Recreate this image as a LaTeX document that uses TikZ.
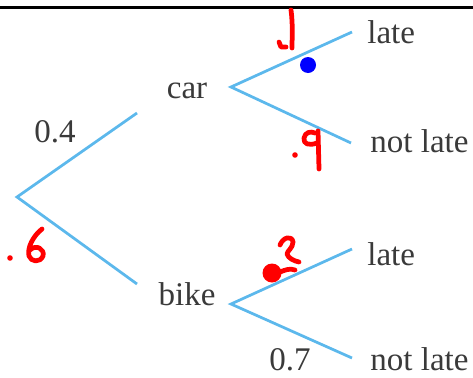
\documentclass[tikz,border=0pt]{standalone}
\usepackage{fontspec}
\setmainfont{Liberation Serif}
\usepackage{tikz}
\usetikzlibrary{calc}

\definecolor{treeblue}{RGB}{92,184,236}
\definecolor{txtgrey}{RGB}{58,58,58}

\begin{document}
\begin{tikzpicture}[x=0.2mm, y=-0.2mm,
		branch/.style={draw=treeblue, line width=0.55mm},
		lbl/.style={text=txtgrey, inner sep=0pt, font=\fontsize{18.8}{22}\selectfont},
		ink/.style={draw=red, line width=0.95mm, line cap=round, line join=round}]
		\useasboundingbox (0,0) rectangle (473,377);
		\draw[line width=0.6mm] (0,7) -- (473,7);
		% tree points
		\coordinate (root) at (17,197);
		\coordinate (caren) at (137,113);
		\coordinate (bikeen) at (137,284);
		\coordinate (carfork) at (231,87);
		\coordinate (bikefork) at (231,304);
		\coordinate (cl) at (352,32);
		\coordinate (cn) at (351,143);
		\coordinate (bl) at (352,249);
		\coordinate (bn) at (352,358);
		% labels
		\node[lbl, anchor=base] (car) at (187,98) {car};
		\node[lbl, anchor=base] (bike) at (187,305) {bike};
		\node[lbl, anchor=base west] (carlate) at (367,43) {late};
		\node[lbl, anchor=base west] (carnot) at (370,152) {not late};
		\node[lbl, anchor=base west] (bikelate) at (367,265) {late};
		\node[lbl, anchor=base west] (bikenot) at (370,370) {not late};
		\node[lbl, anchor=base] (pcar) at (55,142) {0.4};
		\node[lbl, anchor=base] (pbikenot) at (290,370) {0.7};
		% branches
		\draw[branch] (caren) -- (root) -- (bikeen);
		\draw[branch] (cl) -- (carfork) -- (cn);
		\draw[branch] (bl) -- (bikefork) -- (bn);
		% handwriting
		\draw[ink] (291,10) .. controls (293,25) and (292,38) .. (292,48);
		\draw[ink] (279,42) -- (281,47) -- (286,47);
		\draw[ink] (315,133) .. controls (311,131) and (305,132) .. (304,138) .. controls (303,144) and (309,146) .. (317,143);
		\draw[ink] (318,131) -- (319,169);
		\fill[red] (295,155) circle (2.8);
		\draw[ink] (42,229) .. controls (33,236) and (27,248) .. (29,256) .. controls (31,262) and (40,263) .. (43,256) .. controls (45,249) and (36,244) .. (30,250);
		\fill[red] (10,258) circle (2.8);
		\draw[ink] (280,245) .. controls (283,237) and (292,235) .. (293,242) .. controls (293,248) and (287,251) .. (287,254) .. controls (288,258) and (294,261) .. (299,262);
		\draw[ink] (280,272) .. controls (285,270) and (290,268) .. (295,270);
		\fill[red] (272,273) circle (9.5);
		\fill[blue] (308,65) circle (8);
	\end{tikzpicture}
\end{document}
